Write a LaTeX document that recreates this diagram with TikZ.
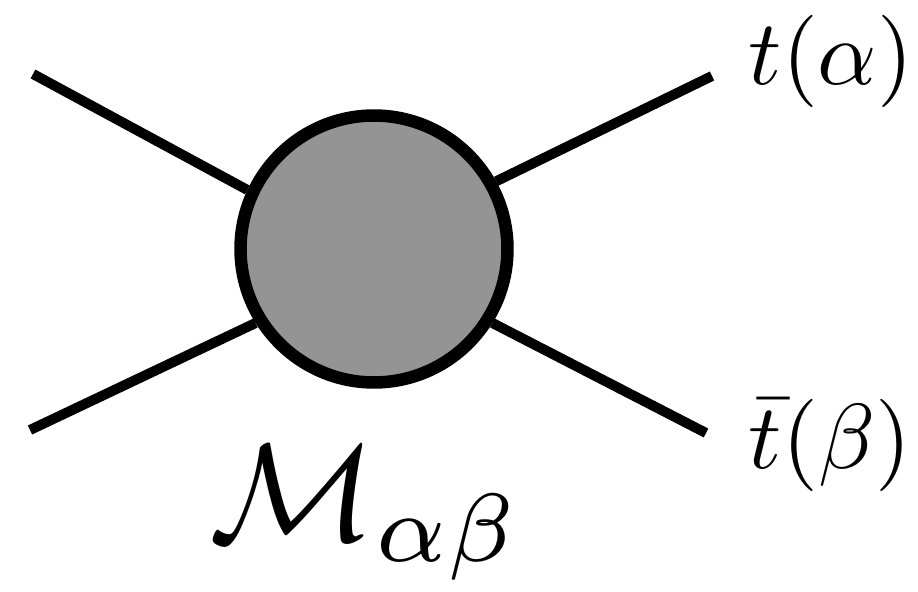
\documentclass[tikz,border=0pt]{standalone}
\usepackage{amsmath}
\begin{document}
\begin{tikzpicture}[x=0.02cm,y=0.02cm,
        blob/.style = {draw, circle, fill=black!42, line width=0.25cm, minimum size=5.34cm, inner sep=0pt},
        leg/.style = {line width=0.2cm},
        lab/.style = {inner sep=0pt, scale=5.25}]
        \useasboundingbox (0,0) rectangle (918,591);
        \node[blob] (blob) at (374,342) {};
        \coordinate (in1) at (33,517);
        \coordinate (in2) at (30,161);
        \coordinate (out1) at (712,515);
        \coordinate (out2) at (706,158);
        \draw[leg] (in1) -- (blob.155);
        \draw[leg] (in2) -- (blob.212);
        \draw[leg] (out1) -- (blob.29);
        \draw[leg] (out2) -- (blob.328);
        \node[lab] (top) at (831,530) {$t(\alpha)$};
        \node[lab] (bottom) at (830,146) {$\bar{t}(\beta)$};
        \node[lab, scale=1.5] (amp) at (366,78) {$\mathcal{M}_{\alpha\beta}$};
\end{tikzpicture}
\end{document}
